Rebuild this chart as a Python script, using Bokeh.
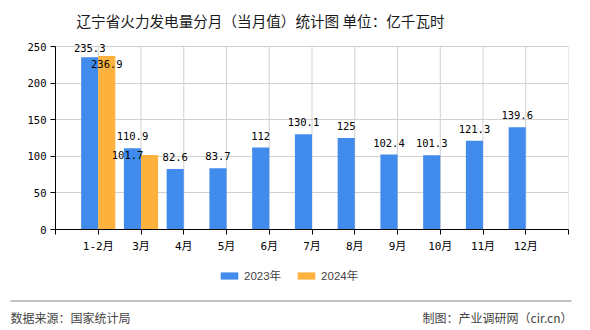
from bokeh.plotting import figure
from bokeh.layouts import column
from bokeh.models import (Range1d, FixedTicker, Label, BoxAnnotation, Legend, LegendItem,
                          ColumnDataSource)
from bokeh.core.properties import value
from bokeh.embed import file_html
from bokeh.resources import INLINE

# ---- data ----
categories = ["1-2月", "3月", "4月", "5月", "6月", "7月", "8月", "9月", "10月", "11月", "12月"]
values_2023 = [235.3, 110.9, 82.6, 83.7, 112, 130.1, 125, 102.4, 101.3, 121.3, 139.6]
values_2024 = [236.9, 101.7]
y_ticks = [0, 50, 100, 150, 200, 250]

# ---- styles ----
BLUE = "#418BEC"
ORANGE = "#FCB23D"
GRID = "#d0d0d0"
MONO = "DejaVu Sans Mono, Noto Sans CJK SC"
CJK = "Noto Sans CJK SC"
# label pixel offsets (dx right, dy up), mimicking the source chart's overlap avoidance
dx_2023 = [0] * len(values_2023)
dy_2023 = [9] + [12] * (len(values_2023) - 1)
dx_2024 = [0, -22]
dy_2024 = [-8, 0]

W = 590
H_MAIN, H_FOOT = 255, 75
FL, FB, FT = 55, 229, 46   # frame left, axis (y=0) row, y=250 row in canvas pixels
Y_MAX = 250
Y_END = Y_MAX * FB / (FB - FT)   # extend the frame to the canvas top so text is not clipped


def fx(cx):
    return cx - FL


def fy(cy):
    return FB - cy


n = len(categories)
p = figure(width=W, height=H_MAIN, output_backend="svg", toolbar_location=None,
           x_range=Range1d(0, n + 1), y_range=Range1d(0, Y_END),
           min_border_left=FL, min_border_right=22, min_border_top=0,
           min_border_bottom=H_MAIN - FB)
p.frame_align = False
p.background_fill_color = "white"
p.border_fill_color = "white"
p.outline_line_color = None

# vertical grid lines, only up to the top value like the source chart
gx = list(range(1, n + 2))
p.segment(x0=gx, x1=gx, y0=[0] * len(gx), y1=[Y_MAX] * len(gx), line_color=GRID, line_width=1)

pos23 = [i + 1 for i in range(len(values_2023))]
pos24 = [i + 1 for i in range(len(values_2024))]

src23 = ColumnDataSource(dict(x=[v - 0.2 for v in pos23], top=values_2023,
                              lab=[f"{v:g}" for v in values_2023],
                              dx=dx_2023, dy=[-d for d in dy_2023]))
src24 = ColumnDataSource(dict(x=[v + 0.2 for v in pos24], top=values_2024,
                              lab=[f"{v:g}" for v in values_2024],
                              dx=dx_2024, dy=[-d for d in dy_2024]))

r23 = p.vbar(x="x", top="top", width=0.4, bottom=0, color=BLUE, line_color=None, source=src23)
r24 = p.vbar(x="x", top="top", width=0.4, bottom=0, color=ORANGE, line_color=None, source=src24)

for s in (src23, src24):
    p.text(x="x", y="top", text="lab", x_offset="dx", y_offset="dy", source=s,
           text_align="center", text_baseline="middle", text_font=value(MONO),
           text_font_size="10.5px", text_color="#000000")

# axes
xa = p.xaxis[0]
xa.ticker = FixedTicker(ticks=list(range(0, n + 2)))
overrides = {i + 1: c for i, c in enumerate(categories)}
overrides[0] = ""
overrides[n + 1] = ""
xa.major_label_overrides = overrides
xa.major_tick_in = 0
xa.major_tick_out = 5
xa.minor_tick_line_color = None
xa.axis_line_color = "black"
xa.major_tick_line_color = "black"
xa.major_label_text_font = MONO
xa.major_label_text_font_size = "11px"
xa.major_label_text_color = "black"
xa.major_label_standoff = 5

ya = p.yaxis[0]
ya.ticker = FixedTicker(ticks=y_ticks)
ya.bounds = (0, Y_MAX)
ya.major_tick_in = 0
ya.major_tick_out = 5
ya.minor_tick_line_color = None
ya.axis_line_color = "black"
ya.major_tick_line_color = "black"
ya.major_label_text_font = MONO
ya.major_label_text_font_size = "10.5px"
ya.major_label_text_color = "black"
ya.major_label_standoff = 4

p.xgrid.grid_line_color = None
p.ygrid.ticker = FixedTicker(ticks=y_ticks[1:])
p.ygrid.grid_line_color = GRID

# title (screen units, relative to the frame's bottom-left)
p.add_layout(Label(x=fx(76), y=fy(20), x_units="screen", y_units="screen",
                   text="辽宁省火力发电量分月（当月值）统计图 单位：亿千瓦时",
                   text_font=CJK, text_font_size="14.6px", text_color="#1a1a1a",
                   text_baseline="middle", text_align="left"))

# ---- footer figure: legend, rule and source lines ----
f = figure(width=W, height=H_FOOT, output_backend="svg", toolbar_location=None,
           x_range=Range1d(0, W), y_range=Range1d(0, H_FOOT),
           x_axis_location=None, y_axis_location=None,
           min_border=0, min_border_left=0, min_border_right=0,
           min_border_top=0, min_border_bottom=0)
f.frame_align = False
f.outline_line_color = None
f.xgrid.grid_line_color = None
f.ygrid.grid_line_color = None
f.background_fill_color = "white"
f.border_fill_color = "white"

# zero-height placeholder bars that only serve as legend swatches
swatch = ColumnDataSource(dict(x=[0], top=[0]))
l23 = f.vbar(x="x", top="top", width=1, color=BLUE, line_color=None, source=swatch)
l24 = f.vbar(x="x", top="top", width=1, color=ORANGE, line_color=None, source=swatch)


def gy(cy):  # canvas y -> footer screen y (from its bottom)
    return (H_MAIN + H_FOOT) - cy


legend = Legend(items=[LegendItem(label="2023年", renderers=[l23]),
                       LegendItem(label="2024年", renderers=[l24])],
                orientation="horizontal", location=(218, gy(283)),
                glyph_width=22, glyph_height=9, spacing=14, label_standoff=4,
                label_text_font="Liberation Sans, Noto Sans CJK SC", label_text_font_size="11.5px",
                label_height=14,
                border_line_color=None, background_fill_alpha=0, padding=0, margin=0)
f.add_layout(legend, "center")

f.add_layout(BoxAnnotation(left=10, right=571, bottom=gy(301), top=gy(300),
                           left_units="screen", right_units="screen",
                           bottom_units="screen", top_units="screen",
                           fill_color="#888888", fill_alpha=1, line_color=None))
f.add_layout(Label(x=10, y=gy(317), x_units="screen", y_units="screen",
                   text="数据来源：国家统计局", text_font=CJK, text_font_size="12px",
                   text_color="#444444", text_baseline="middle", text_align="left"))
f.add_layout(Label(x=572, y=gy(317), x_units="screen", y_units="screen",
                   text="制图：产业调研网（cir.cn）", text_font=CJK, text_font_size="12px",
                   text_color="#444444", text_baseline="middle", text_align="right"))

layout = column(p, f, spacing=0)
open("out.html", "w").write(file_html(layout, INLINE))
